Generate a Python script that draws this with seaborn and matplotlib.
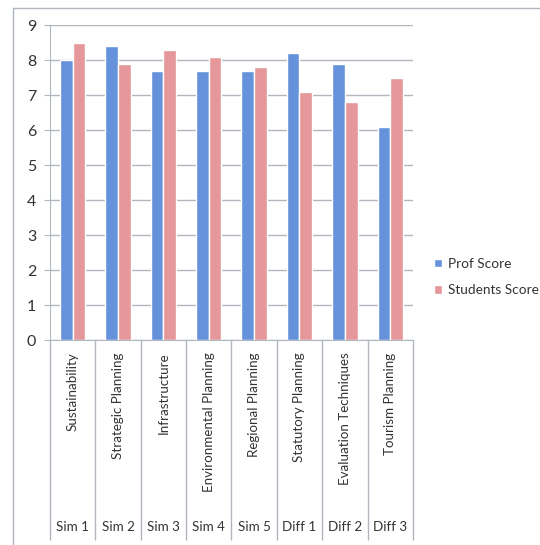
import numpy as np
import pandas as pd
import seaborn as sns
import matplotlib.pyplot as plt
from matplotlib.patches import Rectangle

# chart data
topics = ["Sustainability", "Strategic Planning", "Infrastructure", "Environmental Planning",
          "Regional Planning", "Statutory Planning", "Evaluation Techniques", "Tourism Planning"]
groups = ["Sim 1", "Sim 2", "Sim 3", "Sim 4", "Sim 5", "Diff 1", "Diff 2", "Diff 3"]
prof_score = [8.0, 8.4, 7.7, 7.7, 7.7, 8.2, 7.9, 6.1]
student_score = [8.5, 7.9, 8.3, 8.1, 7.8, 7.1, 6.8, 7.5]

df = pd.DataFrame({
    "topic": topics * 2,
    "score": prof_score + student_score,
    "series": ["Prof Score"] * len(topics) + ["Students Score"] * len(topics),
})

sns.set_style("white")
plt.rcParams["font.family"] = ["Lato", "DejaVu Sans"]

fig = plt.figure(figsize=(5.4, 5.45), dpi=100)
ax = fig.add_axes([0.0926, 0.376, 0.672, 0.578])

sns.barplot(data=df, x="topic", y="score", hue="series", order=topics,
            palette=["#6592da", "#e6979a"], width=0.56, saturation=1,
            ax=ax, legend=True)

ax.set_ylim(0, 9)
ax.set_xlim(-0.5, len(topics) - 0.5)
ax.set_yticks(range(0, 10))
ax.yaxis.grid(True, color="#b0b7be", linewidth=1.0)
ax.set_axisbelow(True)
ax.tick_params(axis="y", labelsize=11.5, length=4, color="#b0b7be", left=True, pad=6,
               labelcolor="#333333")
ax.set_xticks([])
ax.set_xlabel("")
ax.set_ylabel("")
for s in ["top", "right"]:
    ax.spines[s].set_visible(False)
ax.spines["left"].set_color("#b0b7be")
ax.spines["bottom"].set_color("#b0b7be")

# two-level category axis
trans = ax.get_xaxis_transform()
ax.vlines(np.arange(len(topics) + 1) - 0.5, -0.635, 0, transform=trans,
          color="#b0b7be", linewidth=1.0, clip_on=False)
for i, (t, g) in enumerate(zip(topics, groups)):
    ax.text(i, -0.04, t, rotation=90, ha="center", va="top", fontsize=9.6,
            color="#333333", transform=trans)
    ax.text(i, -0.594, g, ha="center", va="center", fontsize=9.6,
            color="#333333", transform=trans)

leg = ax.legend(loc="center left", bbox_to_anchor=(1.025, 0.2), frameon=False,
                fontsize=9.8, handlelength=0.6, handleheight=0.6, handletextpad=0.4,
                labelspacing=1.05)
for txt in leg.get_texts():
    txt.set_color("#333333")

# outer chart frame
fig.patches.append(Rectangle((13 / 540, -0.1), 1.2, 1 - 8 / 545 + 0.1,
                             transform=fig.transFigure, fill=False,
                             edgecolor="#b0b7be", linewidth=1.0))

fig.savefig("out.png", dpi=100)
